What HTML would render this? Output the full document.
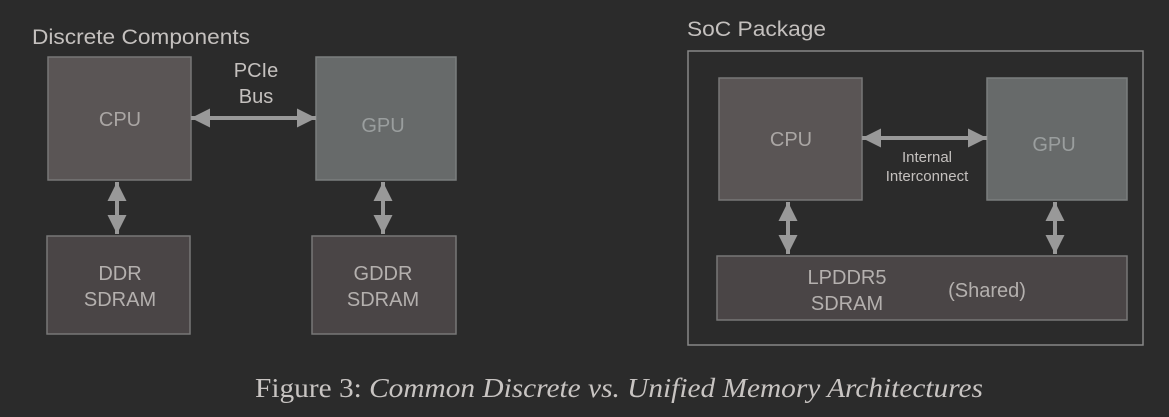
<!DOCTYPE html>
<html><head><style>
html,body{margin:0;padding:0;background:#2b2b2b;}
svg{display:block;}
</style></head><body>
<svg width="1169" height="417" viewBox="0 0 1169 417" xmlns="http://www.w3.org/2000/svg">
<rect width="1169" height="417" fill="#2b2b2b"/>
<defs>
<marker id="ah" viewBox="0 0 10 10" refX="10" refY="5" markerWidth="4.8" markerHeight="4.8" orient="auto-start-reverse" markerUnits="strokeWidth">
<path d="M0,0 L10,5 L0,10 z" fill="#999"/>
</marker>
</defs>
<g font-family="Liberation Sans, sans-serif" fill="#b4b0ae">
<text x="32" y="44" font-size="21" fill="#c4c0be" textLength="218" lengthAdjust="spacingAndGlyphs">Discrete Components</text>
<rect x="48" y="57" width="143" height="123" fill="#5a5555" stroke="#777" stroke-width="1.5"/>
<rect x="316" y="57" width="140" height="123" fill="#676a6a" stroke="#7b7e7e" stroke-width="1.5"/>
<rect x="47" y="236" width="143" height="98" fill="#4a4546" stroke="#777" stroke-width="1.5"/>
<rect x="312" y="236" width="144" height="98" fill="#4a4546" stroke="#777" stroke-width="1.5"/>
<text x="120" y="126" font-size="20" text-anchor="middle" fill="#aaa6a4">CPU</text>
<text x="383" y="132" font-size="20" text-anchor="middle" fill="#9a9e9e">GPU</text>
<text x="256" y="77" font-size="20" text-anchor="middle" fill="#c4c0be">PCIe</text>
<text x="256" y="103" font-size="20" text-anchor="middle" fill="#c4c0be">Bus</text>
<text x="120" y="280" font-size="20" text-anchor="middle">DDR</text>
<text x="120" y="306" font-size="20" text-anchor="middle">SDRAM</text>
<text x="383" y="280" font-size="20" text-anchor="middle">GDDR</text>
<text x="383" y="306" font-size="20" text-anchor="middle">SDRAM</text>
<line x1="191" y1="118" x2="316" y2="118" stroke="#999" stroke-width="4" marker-start="url(#ah)" marker-end="url(#ah)"/>
<line x1="117" y1="182" x2="117" y2="234" stroke="#999" stroke-width="4" marker-start="url(#ah)" marker-end="url(#ah)"/>
<line x1="383" y1="182" x2="383" y2="234" stroke="#999" stroke-width="4" marker-start="url(#ah)" marker-end="url(#ah)"/>

<text x="687" y="36" font-size="21" fill="#c4c0be" textLength="139" lengthAdjust="spacingAndGlyphs">SoC Package</text>
<rect x="688" y="51" width="455" height="294" fill="none" stroke="#888" stroke-width="1.5"/>
<rect x="719" y="78" width="143" height="122" fill="#5a5555" stroke="#777" stroke-width="1.5"/>
<rect x="987" y="78" width="140" height="122" fill="#676a6a" stroke="#7b7e7e" stroke-width="1.5"/>
<rect x="717" y="256" width="410" height="64" fill="#4a4546" stroke="#777" stroke-width="1.5"/>
<text x="791" y="146" font-size="20" text-anchor="middle" fill="#aaa6a4">CPU</text>
<text x="1054" y="151" font-size="20" text-anchor="middle" fill="#9a9e9e">GPU</text>
<text x="927" y="162" font-size="15" text-anchor="middle" fill="#c4c0be">Internal</text>
<text x="927" y="181" font-size="15" text-anchor="middle" fill="#c4c0be">Interconnect</text>
<text x="847" y="284" font-size="20" text-anchor="middle">LPDDR5</text>
<text x="847" y="310" font-size="20" text-anchor="middle">SDRAM</text>
<text x="987" y="297" font-size="20" text-anchor="middle">(Shared)</text>
<line x1="862" y1="138" x2="987" y2="138" stroke="#999" stroke-width="4" marker-start="url(#ah)" marker-end="url(#ah)"/>
<line x1="788" y1="202" x2="788" y2="254" stroke="#999" stroke-width="4" marker-start="url(#ah)" marker-end="url(#ah)"/>
<line x1="1055" y1="202" x2="1055" y2="254" stroke="#999" stroke-width="4" marker-start="url(#ah)" marker-end="url(#ah)"/>
</g>
<text x="255" y="397" font-family="Liberation Serif, serif" font-size="27" fill="#c8c4c2" textLength="728" lengthAdjust="spacingAndGlyphs">Figure 3: <tspan font-style="italic">Common Discrete vs. Unified Memory Architectures</tspan></text>
</svg>
</body></html>
